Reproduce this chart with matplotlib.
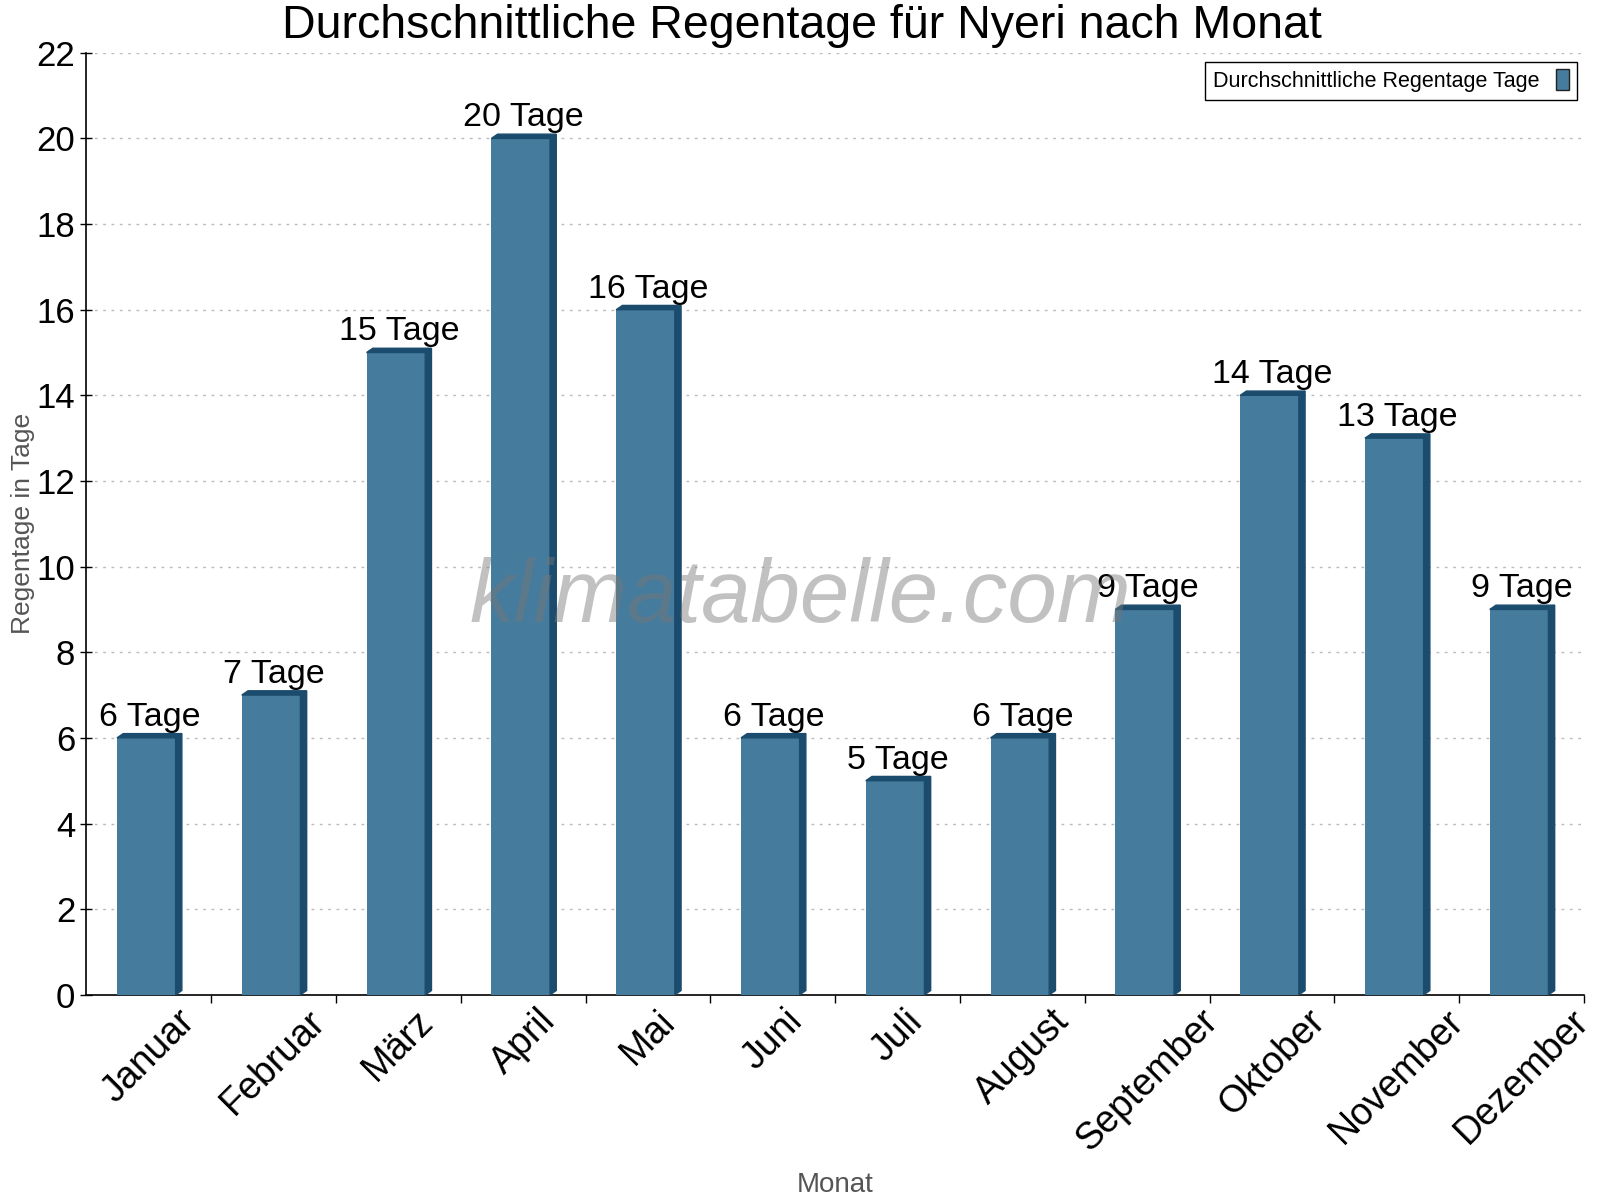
import matplotlib.pyplot as plt
from matplotlib.patches import Polygon, Patch

plt.rcParams['font.family'] = ['Liberation Sans', 'DejaVu Sans']

months = ['Januar', 'Februar', 'März', 'April', 'Mai', 'Juni', 'Juli',
          'August', 'September', 'Oktober', 'November', 'Dezember']
rain_days = [6, 7, 15, 20, 16, 6, 5, 6, 9, 14, 13, 9]

front = '#457b9d'
dark = '#1b4c6d'

fig = plt.figure(figsize=(16, 12), dpi=100)
ax = fig.add_axes([0.054, 0.171, 0.936, 0.785])

w = 0.47
dx, dy = 0.05, 0.1
xs = [i - 0.02 for i in range(len(months))]
ax.bar(xs, rain_days, width=w, color=front, zorder=3)
for x, h in zip(xs, rain_days):
    x0, x1 = x - w / 2, x + w / 2
    # top and side faces for the fake 3d look
    ax.add_patch(Polygon([(x0, h), (x1, h), (x1 + dx, h + dy), (x0 + dx, h + dy)],
                         closed=True, color=dark, zorder=3))
    ax.add_patch(Polygon([(x1, 0), (x1 + dx, dy), (x1 + dx, h + dy), (x1, h)],
                         closed=True, color=dark, zorder=3))
    ax.text(x + dx / 2, h + 0.12, '{} Tage'.format(h), ha='center', va='bottom',
            fontsize=24.5, zorder=4)

ax.set_xlim(-0.5, len(months) - 0.5)
ax.set_ylim(0, 22)
ax.set_yticks(range(0, 23, 2))
ax.set_xticks(range(len(months)))
ax.set_xticklabels(months, rotation=45, ha='center', fontsize=27)
ax.set_xticks([i + 0.5 for i in range(len(months))], minor=True)
ax.tick_params(axis='x', which='major', length=0, pad=6)
ax.tick_params(axis='x', which='minor', length=6, direction='out', width=1)
ax.tick_params(axis='y', labelsize=25, direction='inout', length=8, width=1, pad=4)

ax.grid(axis='y', linestyle=(0, (2, 4)), color='#bbbbbb', linewidth=1, zorder=0)
for s in ['top', 'right']:
    ax.spines[s].set_visible(False)
ax.spines['left'].set_linewidth(1.2)
ax.spines['bottom'].set_linewidth(1.2)

fig.text(0.5015, 0.978, 'Durchschnittliche Regentage für Nyeri nach Monat',
         fontsize=33.5, ha='center', va='center')
ax.set_ylabel('Regentage in Tage', fontsize=19, color='#555555', labelpad=1)
ax.set_xlabel('Monat', fontsize=20, color='#555555', labelpad=10)

ax.text(0.477, 0.42, 'klimatabelle.com', transform=ax.transAxes, fontsize=64,
        style='italic', color='#777777', alpha=0.45, ha='center', va='center', zorder=5)

handle = Patch(facecolor=front, edgecolor='#222222', linewidth=1)
leg = ax.legend([handle], ['Durchschnittliche Regentage Tage'], loc='upper right',
                bbox_to_anchor=(0.998, 0.995), markerfirst=False, fontsize=15.5,
                fancybox=False, framealpha=1, edgecolor='black',
                handlelength=0.6, handleheight=1.1, borderpad=0.35, borderaxespad=0.2)
leg.get_frame().set_linewidth(1)

fig.savefig('out.png', dpi=100)
